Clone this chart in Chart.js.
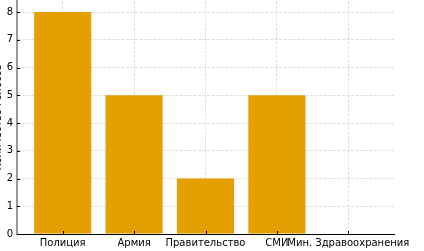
<!DOCTYPE html>
<html><head><meta charset="utf-8">
<script src="https://cdn.jsdelivr.net/npm/chart.js@4/dist/chart.umd.min.js"></script>
<style>
html,body{margin:0;padding:0;background:#fff;overflow:hidden;}
#wrap{position:absolute;left:-26px;top:-9px;width:450px;height:261px;}
</style></head>
<body><div id="wrap"><canvas id="c" width="450" height="261"></canvas></div>
<script>
const categories = ["Полиция", "Армия", "Правительство", "СМИ", "Мин. Здравоохранения"];
const votes = [8, 5, 2, 5, 0];
const yTicks = [0, 1, 2, 3, 4, 5, 6, 7, 8];
const yTitle = "Количество голосов";

const FONT = {family: "DejaVu Sans", size: 10};
const GRID = 'rgba(150,150,150,0.3)';

const innerTicks = {
  id: 'innerTicks',
  afterDraw(chart) {
    const ctx = chart.ctx, x = chart.scales.x, y = chart.scales.y, a = chart.chartArea;
    ctx.save();
    ctx.strokeStyle = '#000'; ctx.lineWidth = 1;
    ctx.beginPath();
    categories.forEach((c, i) => {
      const px = Math.round(x.getPixelForValue(i)) + 0.5;
      ctx.moveTo(px, a.bottom); ctx.lineTo(px, a.bottom - 3);
    });
    yTicks.forEach(v => {
      const py = Math.round(y.getPixelForValue(v)) + 0.5;
      ctx.moveTo(a.left, py); ctx.lineTo(a.left + 3, py);
    });
    ctx.stroke();
    ctx.restore();
  }
};

new Chart(document.getElementById('c'), {
  type: 'bar',
  data: {
    datasets: [{
      data: votes.map((v, i) => ({x: i, y: v})),
      backgroundColor: '#E69F00',
      borderWidth: 0,
      barPercentage: 0.8,
      categoryPercentage: 1.0
    }]
  },
  options: {
    responsive: false,
    animation: false,
    layout: {padding: {left: 0, right: 30, top: 0, bottom: 0}},
    plugins: {legend: {display: false}, tooltip: {enabled: false}},
    scales: {
      x: {
        type: 'linear',
        min: -0.64, max: 4.64,
        offset: false,
        z: 1,
        afterBuildTicks(s) { s.ticks = categories.map((c, i) => ({value: i})); },
        ticks: {
          color: '#000', font: FONT, padding: 3, maxRotation: 0, autoSkip: false,
          callback: (v) => categories[v]
        },
        grid: {color: GRID, lineWidth: 1, drawTicks: false, offset: false},
        border: {display: true, color: '#000', width: 1, dash: [3, 1.5]},
      },
      y: {
        min: 0, max: 8.4,
        z: 1,
        afterBuildTicks(s) { s.ticks = yTicks.map(v => ({value: v})); },
        afterFit(s) { s.width = 43; },
        ticks: {color: '#000', font: FONT, padding: 4},
        grid: {color: GRID, lineWidth: 1, drawTicks: false},
        border: {display: true, color: '#999', width: 2, dash: [3, 1.5]},
        title: {display: true, text: yTitle, color: '#000', font: FONT, padding: {top: 18, bottom: 0}}
      }
    }
  },
  plugins: [innerTicks]
});
</script></body></html>
